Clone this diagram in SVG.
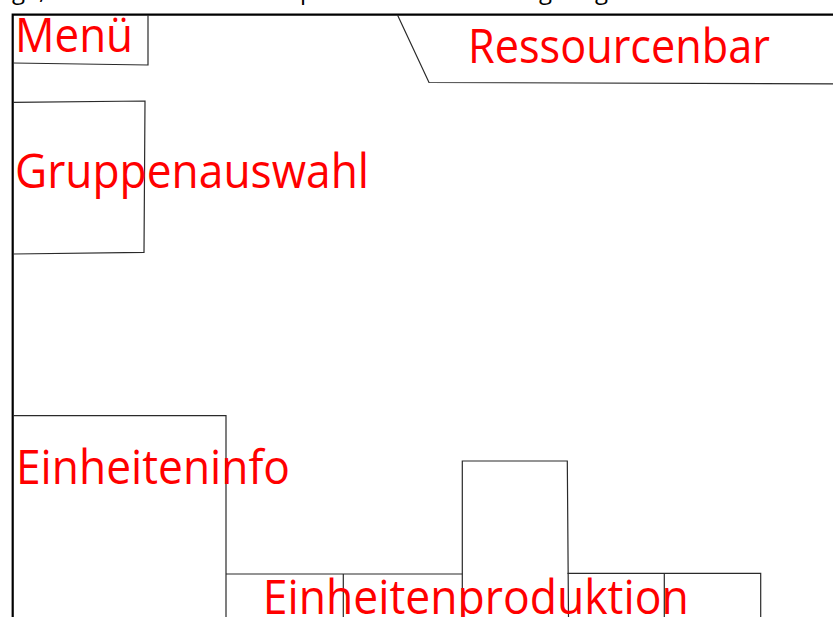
<svg xmlns="http://www.w3.org/2000/svg" width="833" height="617" viewBox="0 0 833 617">
  <style>
    .frame { fill: none; stroke: #000; stroke-width: 2.2; }
    .box { fill: none; stroke: #2a2a2a; stroke-width: 1.2; stroke-linejoin: miter; }
    .lbl { font-family: "Open Sans", "Noto Sans", "Liberation Sans", sans-serif; font-size: 47px; fill: #ff0000; }
    .cut { font-family: "Open Sans", "Liberation Sans", sans-serif; font-size: 24px; fill: #000; }
  </style>
  <rect width="833" height="617" fill="#ffffff"/>
  <g id="cut-text">
    <text class="cut" x="12" y="-1">g</text>
    <text class="cut" x="39" y="-1">,</text>
    <text class="cut" x="300" y="-1">p</text>
    <text class="cut" x="539" y="-1">g</text>
    <text class="cut" x="595" y="-1">g</text>
  </g>
  <g id="screen">
    <path class="frame" d="M12.7,617 V14.6 H833"/>
  </g>
  <g id="menu">
    <path class="box" d="M13,63 L148,65 L148,15"/>
    <text class="lbl" x="15" y="52" textLength="118" lengthAdjust="spacingAndGlyphs">Menü</text>
  </g>
  <g id="ressourcenbar">
    <path class="box" d="M397.5,15 L429,82.5 L833,83.8"/>
    <text class="lbl" x="468" y="63" textLength="302" lengthAdjust="spacingAndGlyphs">Ressourcenbar</text>
  </g>
  <g id="gruppenauswahl">
    <path class="box" d="M13,102.3 L145,101 L144,252.3 L13,254"/>
    <text class="lbl" x="15" y="188" textLength="354" lengthAdjust="spacingAndGlyphs">Gruppenauswahl</text>
  </g>
  <g id="einheiteninfo">
    <path class="box" d="M13,415.7 H226 V617"/>
    <text class="lbl" x="16" y="484" textLength="274" lengthAdjust="spacingAndGlyphs">Einheiteninfo</text>
  </g>
  <g id="einheitenproduktion">
    <path class="box" d="M226,574 H462.3"/>
    <path class="box" d="M343.3,574 V617"/>
    <path class="box" d="M462.3,617 V461 H567.3 L568.5,617"/>
    <path class="box" d="M567.5,573.3 H760.7 V617"/>
    <path class="box" d="M664.3,573.3 V617"/>
    <text class="lbl" x="262.7" y="613.5" textLength="426" lengthAdjust="spacingAndGlyphs">Einheitenproduktion</text>
  </g>
</svg>
